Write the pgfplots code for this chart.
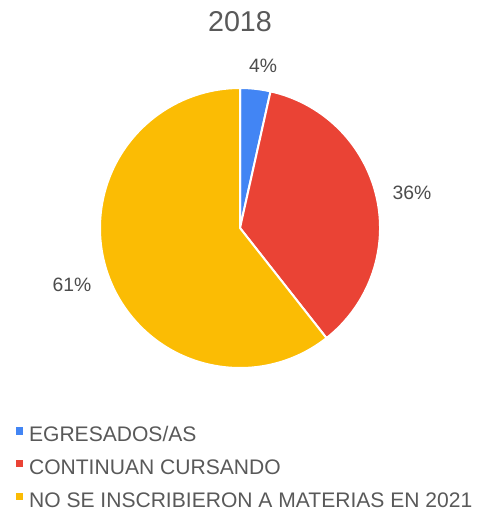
\documentclass[border=0pt]{standalone}
\usepackage{pgfplots}
\usepackage{pgfplotstable}
\pgfplotsset{compat=1.18}
\usepackage{fontspec}
\setmainfont{Liberation Sans}
\definecolor{gblue}{HTML}{4285F4}
\definecolor{gred}{HTML}{EA4335}
\definecolor{gyellow}{HTML}{FBBC04}
\definecolor{txt}{HTML}{595959}
\pgfplotstableread{
value color
3.5 gblue
35.9 gred
60.6 gyellow
}\piedata
\begin{document}
\begin{tikzpicture}
\begin{axis}[
  x=0.75pt, y=0.75pt,
  xmin=0, xmax=474, ymin=0, ymax=515,
  hide axis, clip=false,
  legend style={at={(axis cs:12,92)}, anchor=north west, draw=none, fill=none,
    font=\fontsize{15.8pt}{18pt}\selectfont\color{txt},
    nodes={inner sep=0pt, text height=11.5pt, text depth=2pt},
    row sep=11.2pt,
    /tikz/every odd column/.append style={column sep=4.2pt}},
  legend cell align=left,
  legend image code/.code={\fill[#1, draw=none] (0pt,0.3pt) rectangle (5.4pt,5.7pt);},
]
\path (axis cs:0,0) rectangle (axis cs:474,515);
\pgfmathsetmacro{\a}{90}
\pgfplotsforeachungrouped \i in {0,1,2}{
  \pgfplotstablegetelem{\i}{value}\of\piedata \let\v=\pgfplotsretval
  \pgfplotstablegetelem{\i}{color}\of\piedata \let\c=\pgfplotsretval
  \pgfmathsetmacro{\b}{\a-3.6*\v}
  \edef\temp{\noexpand\filldraw[fill=\c, draw=white, line width=1.5pt, line join=round] (axis cs:240,287) -- ++(\a:105pt) arc[start angle=\a, end angle=\b, radius=105pt] -- cycle;}
  \temp
  \global\let\a=\b
}
\addlegendimage{fill=gblue, draw=none}
\addlegendentry{EGRESADOS/AS}
\addlegendimage{fill=gred, draw=none}
\addlegendentry{CONTINUAN CURSANDO}
\addlegendimage{fill=gyellow, draw=none}
\addlegendentry{NO SE INSCRIBIERON A MATERIAS EN 2021}
\node[font=\fontsize{21.5pt}{24pt}\selectfont, text=txt] at (axis cs:240,493) {2018};
\node[font=\fontsize{14.5pt}{17pt}\selectfont, text=txt!85!black] at (axis cs:263,449) {4\%};
\node[font=\fontsize{14.5pt}{17pt}\selectfont, text=txt!85!black] at (axis cs:412,322) {36\%};
\node[font=\fontsize{14.5pt}{17pt}\selectfont, text=txt!85!black] at (axis cs:72,230) {61\%};
\end{axis}
\end{tikzpicture}
\end{document}
